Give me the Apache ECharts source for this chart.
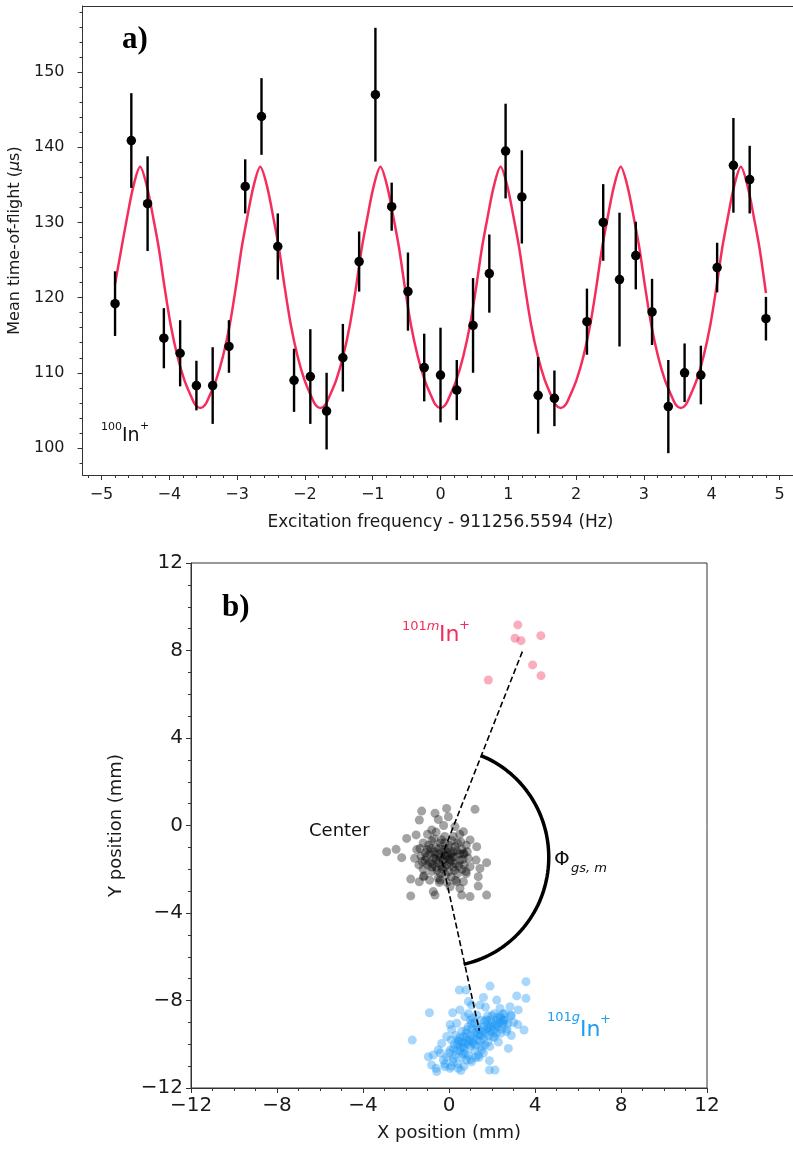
<!DOCTYPE html>
<html><head><meta charset="utf-8">
<script src="https://cdn.jsdelivr.net/npm/echarts@6/dist/echarts.min.js"></script>
<style>html,body{margin:0;padding:0;background:#fff}#c{width:793px;height:1151px}</style>
</head><body><div id="c"></div>
<script>
// ---------- Panel a) data ----------
const freq = [-4.80,-4.56,-4.32,-4.08,-3.84,-3.60,-3.36,-3.12,-2.88,-2.64,-2.40,-2.16,-1.92,-1.68,-1.44,-1.20,-0.96,-0.72,-0.48,-0.24,0.00,0.24,0.48,0.72,0.96,1.20,1.44,1.68,2.16,2.40,2.64,2.88,3.12,3.36,3.60,3.84,4.08,4.32,4.56,4.80];
const tof = [119.2,140.9,132.5,114.6,112.6,108.3,108.3,113.5,134.8,144.1,126.8,109.0,109.5,104.9,112.0,124.8,147.0,132.1,120.8,110.7,109.7,107.7,116.3,123.2,139.5,133.4,107.0,106.6,116.8,130.0,122.4,125.6,118.1,105.5,110.0,109.7,124.0,137.6,135.7,117.2];
const tofErr = [4.3,6.3,6.3,4.0,4.4,3.3,5.1,3.5,3.6,5.1,4.4,4.2,6.3,5.1,4.5,4.0,8.9,3.2,5.2,4.5,6.3,4.0,6.3,5.2,6.3,6.2,5.1,3.7,4.4,5.1,8.9,4.5,4.4,6.2,3.9,3.9,3.3,6.3,4.5,2.9];
// fitted curve
const fitX = [-4.80,-4.705,-4.63,-4.53,-4.43,-4.33,-4.23,-4.155,-4.07,-3.98,-3.88,-3.78,-3.68,-3.614,-3.544,-3.474,-3.408,-3.308,-3.208,-3.108,-3.018,-2.933,-2.858,-2.758,-2.658,-2.558,-2.458,-2.383,-2.298,-2.208,-2.108,-2.008,-1.908,-1.842,-1.772,-1.702,-1.636,-1.536,-1.436,-1.336,-1.246,-1.161,-1.086,-0.986,-0.886,-0.786,-0.686,-0.611,-0.526,-0.436,-0.336,-0.236,-0.136,-0.07,0.00,0.07,0.136,0.236,0.336,0.436,0.526,0.611,0.686,0.786,0.886,0.986,1.086,1.161,1.246,1.336,1.436,1.536,1.636,1.702,1.772,1.842,1.908,2.008,2.108,2.208,2.298,2.383,2.458,2.558,2.658,2.758,2.858,2.933,3.018,3.108,3.208,3.308,3.408,3.474,3.544,3.614,3.68,3.78,3.88,3.98,4.07,4.155,4.23,4.33,4.43,4.53,4.63,4.705,4.80];
const fitY = [121.8,126.6,130.3,134.8,137.4,134.8,130.3,126.6,121.4,116.4,112.2,109.1,106.9,105.7,105.3,105.7,106.9,109.1,112.2,116.4,121.4,126.6,130.3,134.8,137.4,134.8,130.3,126.6,121.4,116.4,112.2,109.1,106.9,105.7,105.3,105.7,106.9,109.1,112.2,116.4,121.4,126.6,130.3,134.8,137.4,134.8,130.3,126.6,121.4,116.4,112.2,109.1,106.9,105.7,105.3,105.7,106.9,109.1,112.2,116.4,121.4,126.6,130.3,134.8,137.4,134.8,130.3,126.6,121.4,116.4,112.2,109.1,106.9,105.7,105.3,105.7,106.9,109.1,112.2,116.4,121.4,126.6,130.3,134.8,137.4,134.8,130.3,126.6,121.4,116.4,112.2,109.1,106.9,105.7,105.3,105.7,106.9,109.1,112.2,116.4,121.4,126.6,130.3,134.8,137.4,134.8,130.3,126.6,120.6];
const xTicksA = [-5,-4,-3,-2,-1,0,1,2,3,4,5];
const yTicksA = [100,110,120,130,140,150];

// ---------- Panel b) data ----------
const ticksB = [-12,-8,-4,0,4,8,12];
const mPts = [[3.20,9.17],[3.07,8.56],[3.35,8.45],[4.27,8.68],[3.89,7.34],[4.28,6.85],[1.83,6.65]];
const centerPts = [
[-2.90,-1.20],[-2.46,-1.09],[-2.20,-1.47],[-1.97,-0.59],[-1.78,-2.45],[-1.78,-3.22],[-1.53,-0.43],[-1.38,0.25],[-1.27,0.66],[-1.38,-2.57],[-1.19,-2.34],[-0.73,-3.02],[-0.65,0.56],[-0.50,0.28],[-0.11,0.78],[-0.03,0.40],[0.28,-0.05],[0.67,-0.28],[1.21,0.74],[0.98,-0.66],[1.29,-0.97],[1.26,-1.58],[1.44,-1.96],[1.75,-1.70],[1.36,-2.34],[1.36,-2.77],[0.98,-3.25],[0.59,-3.18],[0.51,-2.87],[0.67,-2.57],[1.75,-3.18],[-0.65,-3.18],[-0.42,-2.49],[0.05,-2.80],[0.36,-2.57],[0.79,-2.11],[0.98,-1.88],[0.67,-1.27],[0.28,-0.97],
[-1.2,-0.8],[-1.0,-1.1],[-0.8,-0.7],[-0.6,-1.0],[-0.4,-0.8],[-0.2,-1.1],[0.0,-0.9],[0.2,-1.2],[0.4,-0.8],[0.6,-1.1],[0.8,-0.9],
[-1.3,-1.4],[-1.1,-1.6],[-0.9,-1.3],[-0.7,-1.5],[-0.5,-1.3],[-0.3,-1.6],[-0.1,-1.4],[0.1,-1.6],[0.3,-1.4],[0.5,-1.6],[0.7,-1.3],[0.9,-1.5],
[-1.2,-2.0],[-1.0,-1.8],[-0.8,-2.1],[-0.6,-1.9],[-0.4,-2.2],[-0.2,-1.9],[0.0,-2.1],[0.2,-1.9],[0.4,-2.2],[0.6,-2.0],[0.8,-2.2],
[-0.9,-2.5],[-0.5,-2.4],[-0.1,-2.6],[0.3,-2.5],
[-1.0,-0.4],[-0.6,-0.3],[-0.2,-0.5],[0.2,-0.5],[0.5,-0.4],
[-0.7,-1.2],[-0.5,-1.7],[-0.3,-1.2],[-0.1,-1.8],[0.1,-1.3],[-0.9,-1.7],[-0.4,-1.45],[-0.2,-1.35],[0.0,-1.55],[-0.6,-1.55],[-1.1,-1.25],[0.3,-1.75],[-0.8,-1.9],[-0.3,-2.0],[0.5,-1.3],[-1.4,-1.8],[-1.5,-1.1],[0.7,-1.8],[-0.2,-0.8],[-0.7,-0.6],
[-0.85,-1.05],[-0.65,-1.35],[-0.45,-1.05],[-0.25,-1.55],[-0.05,-1.25],[0.15,-1.45],[0.35,-1.15],[-1.05,-1.45],[-0.75,-1.75],[-0.55,-2.05],[-0.35,-1.85],[-0.15,-2.25],[0.05,-1.7],[0.25,-2.05],[0.45,-1.85],[-1.25,-1.65],[-0.95,-0.9],[-0.35,-0.65],[0.15,-0.7],[0.55,-0.75],[-1.35,-1.05],[-0.05,-1.05],[0.65,-1.55],[-0.45,-2.6],[0.1,-2.35],[-1.15,-2.3],[0.85,-1.2],[-1.6,-1.5],[-0.25,0.0],[-0.8,-0.2]];
const gPts = [
[3.58,-7.14],[1.91,-7.34],[0.48,-7.52],[0.79,-7.52],[3.15,-7.79],[3.58,-7.90],[0.90,-8.05],[1.60,-7.86],[-0.91,-8.56],[0.17,-8.56],[0.51,-8.43],[1.44,-8.21],[2.22,-7.98],[3.22,-8.43],[2.87,-8.66],[2.37,-8.74],[3.49,-9.35],[-1.71,-9.81],[0.12,-9.32],[-0.34,-9.96],[-0.73,-10.49],[-0.60,-11.10],[-0.19,-11.03],[0.43,-11.10],[1.05,-10.80],[1.88,-10.75],[1.88,-11.18],[2.14,-11.18],[2.76,-10.19],[1.52,-10.26],[1.13,-9.96],[0.74,-10.41],[0.43,-9.81],[0.67,-9.65],[1.05,-9.04],[1.75,-8.89],[2.22,-9.12],[2.53,-8.89],[2.68,-9.42],[2.06,-9.65],[1.44,-9.58],[1.83,-9.27],[1.29,-9.35],[0.82,-9.35],[0.05,-10.26],[-0.26,-10.72],[0.20,-10.64],[0.67,-10.11],[2.37,-8.36],[1.29,-8.66],[2.84,-8.28],[1.05,-8.21],[0.74,-8.74],[0.36,-9.04],[-0.11,-9.65],[-0.50,-10.26],[-0.96,-10.57],[-0.81,-10.95],[-0.57,-11.25],[0.05,-11.10],[0.82,-10.72],[1.36,-10.49],[1.67,-10.03],
[0.2,-10.2],[0.4,-10.0],[0.6,-9.9],[0.8,-9.7],[1.0,-9.6],[1.2,-9.5],[1.4,-9.3],[1.6,-9.2],[1.8,-9.1],[2.0,-9.0],[2.2,-8.9],[2.4,-8.8],
[0.3,-10.5],[0.5,-10.3],[0.7,-10.2],[0.9,-10.0],[1.1,-9.9],[1.3,-9.8],[1.5,-9.6],[1.7,-9.5],[1.9,-9.4],[2.1,-9.3],[2.3,-9.2],[2.5,-9.1],
[0.1,-9.8],[0.3,-9.6],[0.6,-9.4],[0.9,-9.2],[1.2,-9.0],[1.5,-8.9],[1.8,-8.7],[2.1,-8.6],[2.6,-8.6],
[-0.1,-10.6],[0.2,-10.8],[0.6,-10.6],[0.9,-10.5],[1.2,-10.3],[1.5,-10.1],[1.8,-9.9],[2.1,-9.7],[2.4,-9.5],[2.7,-9.3],
[0.0,-10.4],[0.4,-10.9],[0.8,-9.5],[1.0,-10.1],[1.3,-9.2],[1.6,-9.75],[1.9,-8.9],[2.2,-9.5],[2.0,-8.7],[1.1,-8.8],[0.5,-9.7],[1.4,-10.6],[0.7,-11.0],[1.0,-10.7],[2.6,-8.9],[2.9,-8.7],[3.0,-9.0],
[0.35,-10.3],[0.55,-10.15],[0.75,-9.95],[0.95,-9.8],[1.15,-9.7],[1.35,-9.55],[1.55,-9.4],[1.75,-9.3],[1.95,-9.2],[2.15,-9.1],[2.35,-9.0],[2.55,-8.95],
[0.45,-9.9],[0.65,-10.45],[0.85,-9.85],[1.05,-9.3],[1.25,-10.05],[1.45,-9.85],[1.65,-8.95],[1.85,-9.6],[2.05,-9.4],[2.25,-8.75],[2.45,-9.3],[2.75,-9.05],
[0.25,-10.0],[-0.2,-10.9],[0.1,-11.0],[0.55,-11.2],[1.25,-10.6],[1.6,-10.4],[2.3,-9.9],[2.5,-8.6],[3.2,-9.1],[2.9,-9.6],[0.9,-8.6],[1.7,-8.3],[1.0,-8.9],[-0.4,-10.4],[0.05,-9.1],[1.9,-10.1]];
// geometry of the annotation
const ringCenter = [-0.36,-1.45];
const mEnd = [3.41,7.95];
const gEnd = [1.41,-9.38];
const arcRadius = 5.0, arcStartDeg = 68, arcEndDeg = -78;

// ---------- build ----------
const FONT = 'DejaVu Sans';
const AX = '#333';
const TXT = '#1a1a1a';
const minus = v => String(v).replace('-', '\u2212');
const minorA_x = [], minorA_y = [];
for (let i = -26; i <= 26; i++) { if (i % 5 !== 0) minorA_x.push(i / 5); }
for (let v = 98; v <= 158; v += 2) { if (v % 10 !== 0) minorA_y.push(v); }

const arcPts = [];
for (let a = arcStartDeg; a >= arcEndDeg; a -= 2) {
  const r = a * Math.PI / 180;
  arcPts.push([ringCenter[0] + arcRadius * Math.cos(r), ringCenter[1] + arcRadius * Math.sin(r)]);
}

function mainAxis(grid, pos, min, max, ticks, fs, margin, extra) {
  return Object.assign({
    type: 'value', gridIndex: grid, position: pos, min: min, max: max,
    axisLine: { show: true, onZero: false, lineStyle: { color: AX, width: 1 } },
    axisTick: { show: true, customValues: ticks, length: 5, lineStyle: { color: AX, width: 1 } },
    axisLabel: { customValues: ticks, formatter: minus, fontSize: fs, color: TXT, fontFamily: FONT, margin: margin },
    splitLine: { show: false }
  }, extra || {});
}
function minorAxis(grid, pos, min, max, ticks) {
  return {
    type: 'value', gridIndex: grid, position: pos, min: min, max: max,
    axisLine: { show: false, onZero: false }, axisLabel: { show: false }, splitLine: { show: false },
    axisTick: { show: true, customValues: ticks, length: 3, lineStyle: { color: AX, width: 1 } }
  };
}
function frameAxis(grid, pos, min, max) {
  return {
    type: 'value', gridIndex: grid, position: pos, min: min, max: max,
    axisLine: { show: true, onZero: false, lineStyle: { color: AX, width: 1 } },
    axisTick: { show: false }, axisLabel: { show: false }, splitLine: { show: false }
  };
}
function bAxis(pos, name, gap) {
  return {
    type: 'value', gridIndex: 1, position: pos, min: -12, max: 12, interval: 4,
    axisLine: { show: true, onZero: false, lineStyle: { color: AX, width: 1 } },
    axisTick: { show: true, length: 5, lineStyle: { color: AX } },
    axisLabel: { formatter: minus, fontSize: 20, color: TXT, fontFamily: FONT, margin: 8 },
    minorTick: { show: true, splitNumber: 4, length: 3, lineStyle: { color: AX } },
    splitLine: { show: false },
    name: name, nameLocation: 'middle', nameGap: gap,
    nameTextStyle: { fontSize: 18, fontFamily: FONT, color: TXT }
  };
}

const option = {
  animation: false,
  backgroundColor: '#fff',
  grid: [
    { left: 82.5, top: 6, width: 716, height: 469, show: false, outerBoundsMode: 'none', containLabel: false },
    { left: 191, top: 563, width: 516, height: 525, show: true, borderColor: AX, borderWidth: 1, backgroundColor: 'transparent', outerBoundsMode: 'none', containLabel: false }
  ],
  xAxis: [
    mainAxis(0, 'bottom', -5.28, 5.28, xTicksA, 16, 12, { name: 'Excitation frequency - 911256.5594 (Hz)', nameLocation: 'middle', nameGap: 39, nameTextStyle: { fontSize: 17, fontFamily: FONT, color: TXT } }),
    minorAxis(0, 'bottom', -5.28, 5.28, minorA_x),
    bAxis('bottom', 'X position (mm)', 36),
    frameAxis(0, 'top', -5.28, 5.28)
  ],
  yAxis: [
    mainAxis(0, 'left', 96.4, 158.8, yTicksA, 16, 18, { name: 'Mean time-of-flight ({i|\u03bc}s)', nameLocation: 'middle', nameGap: 54,
      nameTextStyle: { fontSize: 16, fontFamily: FONT, color: TXT, rich: { i: { fontSize: 16, fontFamily: FONT, fontStyle: 'italic', color: TXT } } } }),
    minorAxis(0, 'left', 96.4, 158.8, minorA_y),
    bAxis('left', 'Y position (mm)', 66)
  ],
  series: [
    { type: 'line', xAxisIndex: 0, yAxisIndex: 0, data: fitX.map((x, i) => [x, fitY[i]]), smooth: 0.3, showSymbol: false, symbol: 'none',
      lineStyle: { color: '#f52d5c', width: 2.5 }, z: 2, silent: true },
    { type: 'custom', xAxisIndex: 0, yAxisIndex: 0, data: freq.map((x, i) => [x, tof[i], tofErr[i]]), z: 3, silent: true,
      encode: { x: 0, y: 1 },
      renderItem: function (params, api) {
        const x = api.value(0), y = api.value(1), e = api.value(2);
        const p1 = api.coord([x, y - e]), p2 = api.coord([x, y + e]);
        return { type: 'line', shape: { x1: p1[0], y1: p1[1], x2: p2[0], y2: p2[1] }, style: { stroke: '#000', lineWidth: 2.4 } };
      } },
    { type: 'scatter', xAxisIndex: 0, yAxisIndex: 0, data: freq.map((x, i) => [x, tof[i]]), symbolSize: 9.5, itemStyle: { color: '#000', opacity: 1 }, z: 4, silent: true },

    { type: 'scatter', xAxisIndex: 2, yAxisIndex: 2, data: centerPts, symbolSize: 9, itemStyle: { color: 'rgba(0,0,0,0.36)', opacity: 1 }, z: 3, silent: true },
    { type: 'scatter', xAxisIndex: 2, yAxisIndex: 2, data: mPts, symbolSize: 9, itemStyle: { color: 'rgba(240,40,85,0.38)', opacity: 1 }, z: 3, silent: true },
    { type: 'scatter', xAxisIndex: 2, yAxisIndex: 2, data: gPts, symbolSize: 9, itemStyle: { color: 'rgba(25,150,245,0.38)', opacity: 1 }, z: 3, silent: true },
    { type: 'line', xAxisIndex: 2, yAxisIndex: 2, data: [mEnd, ringCenter, gEnd], showSymbol: false, symbol: 'none',
      lineStyle: { color: '#000', width: 1.6, type: [6, 3] }, z: 4, silent: true },
    { type: 'line', xAxisIndex: 2, yAxisIndex: 2, data: arcPts, showSymbol: false, symbol: 'none', smooth: false,
      lineStyle: { color: '#000', width: 3.5 }, z: 4, silent: true }
  ],
  graphic: [
    { type: 'text', left: 122, top: 24, style: { text: 'a)', font: 'bold 31px "Liberation Serif"', fill: '#000' } },
    { type: 'text', left: 222, top: 592, style: { text: 'b)', font: 'bold 31px "Liberation Serif"', fill: '#000' } },
    // 100In+
    { type: 'text', left: 101, top: 422, style: { text: '100', font: '11px "DejaVu Sans"', fill: '#111' } },
    { type: 'text', left: 122, top: 427, style: { text: 'In', font: '19px "DejaVu Sans"', fill: '#111' } },
    { type: 'text', left: 140, top: 421, style: { text: '+', font: '11px "DejaVu Sans"', fill: '#111' } },
    // 101mIn+
    { type: 'text', left: 402, top: 620, style: { text: '{n|101}{i|m}', rich: { n: { font: '13px "DejaVu Sans"', fill: '#f52d5c' }, i: { font: 'italic 13px "DejaVu Sans"', fill: '#f52d5c' } } } },
    { type: 'text', left: 439, top: 624, style: { text: 'In', font: '22px "DejaVu Sans"', fill: '#f52d5c' } },
    { type: 'text', left: 459, top: 619, style: { text: '+', font: '13px "DejaVu Sans"', fill: '#f52d5c' } },
    // Center
    { type: 'text', left: 309, top: 822, style: { text: 'Center', font: '18px "DejaVu Sans"', fill: '#111' } },
    // Phi
    { type: 'text', left: 554, top: 850, style: { text: '\u03a6', font: '20px "DejaVu Sans"', fill: '#111' } },
    { type: 'text', left: 571, top: 862, style: { text: 'gs, m', font: 'italic 13px "DejaVu Sans"', fill: '#111' } },
    // 101gIn+
    { type: 'text', left: 547, top: 1011, style: { text: '{n|101}{i|g}', rich: { n: { font: '13px "DejaVu Sans"', fill: '#1e9df2' }, i: { font: 'italic 13px "DejaVu Sans"', fill: '#1e9df2' } } } },
    { type: 'text', left: 580, top: 1019, style: { text: 'In', font: '22px "DejaVu Sans"', fill: '#1e9df2' } },
    { type: 'text', left: 600, top: 1013, style: { text: '+', font: '13px "DejaVu Sans"', fill: '#1e9df2' } }
  ]
};
const chart = echarts.init(document.getElementById('c'), null, { renderer: 'canvas' });
chart.setOption(option);
</script>
</body></html>
